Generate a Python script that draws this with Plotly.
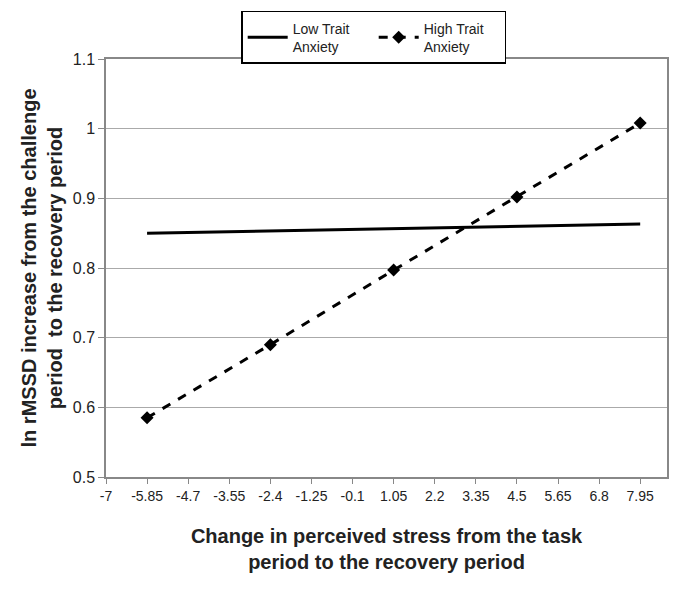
import plotly.graph_objects as go

x_ticks = [-7, -5.85, -4.7, -3.55, -2.4, -1.25, -0.1, 1.05, 2.2, 3.35, 4.5, 5.65, 6.8, 7.95]
x_points = [-5.85, -2.4, 1.05, 4.5, 7.95]
low_trait = [0.850, 0.853, 0.857, 0.860, 0.863]
high_trait = [0.585, 0.690, 0.797, 0.902, 1.008]
y_ticks = [0.5, 0.6, 0.7, 0.8, 0.9, 1.0, 1.1]
y_labels = ["0.5", "0.6", "0.7", "0.8", "0.9", "1", "1.1"]

fig = go.Figure()
fig.add_trace(go.Scatter(
    x=x_points, y=low_trait, mode="lines", name="Low Trait<br>Anxiety",
    line=dict(color="black", width=3),
))
fig.add_trace(go.Scatter(
    x=x_points, y=high_trait, mode="lines+markers", name="High Trait<br>Anxiety",
    line=dict(color="black", width=3, dash="dash"),
    marker=dict(symbol="diamond", size=10, color="black"),
))

font = "Liberation Sans, Arial, sans-serif"
fig.update_layout(
    width=681, height=596,
    margin=dict(l=98, r=22, t=51, b=127, autoexpand=False),
    paper_bgcolor="white", plot_bgcolor="white",
    font=dict(family=font, size=14, color="#222"),
    showlegend=True,
    legend=dict(
        orientation="h", x=0.537, y=0.995, xanchor="center", yanchor="top",
        xref="container", yref="container",
        bordercolor="black", borderwidth=1.5, bgcolor="white",
        font=dict(size=14, color="#222"), itemwidth=40, tracegroupgap=0,
        entrywidth=76, entrywidthmode="pixels",
    ),
    xaxis=dict(
        range=[-7, 8.7], tickvals=x_ticks, ticktext=[str(v) for v in x_ticks],
        showgrid=False, zeroline=False,
        showline=True, linecolor="#888", linewidth=1.5, mirror=True,
        ticks="outside", ticklen=5, tickcolor="#888",
        tickfont=dict(size=14, color="#222"),
        title=dict(text="<b>Change in perceived stress from the task<br>period to the recovery period</b>",
                   font=dict(size=20, color="#222"), standoff=26),
    ),
    yaxis=dict(
        range=[0.5, 1.1], tickvals=y_ticks, ticktext=y_labels,
        showgrid=True, gridcolor="#aaa", gridwidth=1, zeroline=False,
        showline=True, linecolor="#888", linewidth=1.5, mirror=True,
        ticks="outside", ticklen=6, tickcolor="#888",
        tickfont=dict(size=16, color="#222"),
        title=dict(text="<b>ln rMSSD increase from the challenge<br>period  to the recovery period</b>",
                   font=dict(size=20, color="#222"), standoff=5),
    ),
)
fig.write_html("out.html")
